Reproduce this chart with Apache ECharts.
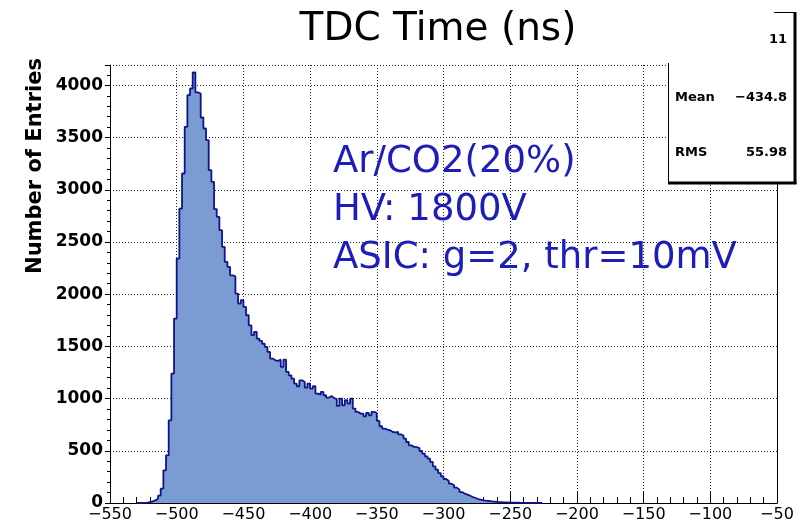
<!DOCTYPE html>
<html>
<head>
<meta charset="utf-8">
<script src="https://cdn.jsdelivr.net/npm/echarts@6/dist/echarts.min.js"></script>
<style>
html,body{margin:0;padding:0;background:#fff;}
#chart{width:808px;height:524px;}
</style>
</head>
<body>
<div id="chart"></div>
<script>
// ---- data ----
var binStart = -530;      // left edge of first listed bin
var binWidth = 2;         // ns per bin
var counts = [
  0, 0, 2, 4, 8, 15, 25, 40, 70, 137,
  313, 457, 792, 1239, 1766, 2341, 2820, 3156, 3603, 3906,
  3970, 4123, 3932, 3922, 3692, 3587, 3475, 3188, 3076, 2815,
  2740, 2613, 2453, 2309, 2261, 2181, 2170, 2006, 1910, 1942,
  1878, 1798, 1702, 1607, 1639, 1575, 1552, 1525, 1495, 1447,
  1383, 1367, 1361, 1373, 1303, 1373, 1255, 1223, 1191, 1143,
  1118, 1175, 1159, 1105, 1143, 1096, 1118, 1048, 1038, 1064,
  1032, 1009, 1025, 1006, 995, 930, 1000, 936, 984, 952,
  1000, 904, 872, 856, 856, 830, 862, 840, 872, 862,
  786, 735, 712, 703, 696, 680, 677, 680, 658, 645,
  616, 584, 552, 537, 535, 525, 498, 473, 447, 425,
  393, 351, 319, 287, 256, 230, 211, 185, 169, 147,
  128, 105, 89, 80, 70, 57, 48, 38, 32, 26,
  22, 19, 16, 13, 10, 9, 7, 6, 5, 4,
  4, 3, 3, 2, 2, 2, 1, 1, 1, 1,
  1, 0
];
var xTicks = [-550, -500, -450, -400, -350, -300, -250, -200, -150, -100, -50];
var yTicks = [0, 500, 1000, 1500, 2000, 2500, 3000, 3500, 4000];
var titleText = 'TDC Time (ns)';
var yName = 'Number of Entries';
var noteLines = ['Ar/CO2(20%)', 'HV: 1800V', 'ASIC: g=2, thr=10mV'];
var statsRows = [['', '11'], ['Mean', '\u2212434.8'], ['RMS', '55.98']];

// ---- build ----
var histData = [];
for (var i = 0; i < counts.length; i++) {
  histData.push([binStart + i * binWidth, counts[i]]);
}
histData.push([binStart + counts.length * binWidth, 0]);

function fmtMinus(v) { return v < 0 ? '\u2212' + Math.abs(v) : String(v); }

var FONT = '"DejaVu Sans", "Liberation Sans", Arial, sans-serif';
var chart = echarts.init(document.getElementById('chart'), null, {renderer: 'canvas'});

var graphics = [];
graphics.push({type: 'text', x: 438, y: 30, z: 100,
  style: {text: titleText, font: '39px ' + FONT, fill: '#000', align: 'center', verticalAlign: 'middle'}});
graphics.push({type: 'text', x: 36, y: 166, rotation: Math.PI / 2, z: 100,
  style: {text: yName, font: 'bold 21px ' + FONT, fill: '#000', align: 'center', verticalAlign: 'middle'}});
var noteY = [162, 210, 258];
noteLines.forEach(function (t, k) {
  graphics.push({type: 'text', x: 333, y: noteY[k], z: 100,
    style: {text: t, font: '37px ' + FONT, fill: '#1d1db8', align: 'left', verticalAlign: 'middle'}});
});
// stats box (top-left part hidden behind the title pad)
graphics.push({type: 'rect', z: 100, shape: {x: 668, y: 63, width: 126, height: 119}, style: {fill: '#fff'}});
graphics.push({type: 'rect', z: 100, shape: {x: 774, y: 12, width: 20, height: 60}, style: {fill: '#fff'}});
var lineStyle1 = {stroke: '#000', lineWidth: 1};
graphics.push({type: 'line', z: 101, shape: {x1: 774, y1: 12.5, x2: 794, y2: 12.5}, style: lineStyle1});
graphics.push({type: 'line', z: 101, shape: {x1: 668.5, y1: 63, x2: 668.5, y2: 182}, style: lineStyle1});
graphics.push({type: 'line', z: 101, shape: {x1: 795, y1: 12, x2: 795, y2: 184}, style: {stroke: '#000', lineWidth: 3}});
graphics.push({type: 'line', z: 101, shape: {x1: 668, y1: 183, x2: 796.5, y2: 183}, style: {stroke: '#000', lineWidth: 3}});
var statsY = [40, 98, 153];
statsRows.forEach(function (r, k) {
  if (r[0]) graphics.push({type: 'text', x: 675, y: statsY[k], z: 102,
    style: {text: r[0], font: 'bold 13px ' + FONT, fill: '#000', align: 'left', verticalAlign: 'middle'}});
  graphics.push({type: 'text', x: 787, y: statsY[k], z: 102,
    style: {text: r[1], font: 'bold 13px ' + FONT, fill: '#000', align: 'right', verticalAlign: 'middle'}});
});

var option = {
  animation: false,
  backgroundColor: '#fff',
  grid: {left: 110, right: 31, top: 65, bottom: 21, containLabel: false},
  xAxis: {
    type: 'value', min: xTicks[0], max: xTicks[xTicks.length - 1], interval: 50,
    axisLine: {show: true, onZero: false, lineStyle: {color: '#000', width: 1}},
    axisTick: {show: true, inside: true, length: 12, lineStyle: {color: '#000'}},
    minorTick: {show: true, splitNumber: 5, length: 6, lineStyle: {color: '#000'}},
    splitLine: {show: true, lineStyle: {color: '#222', type: [1, 2], width: 1}},
    axisLabel: {margin: 4, color: '#000', fontFamily: FONT, fontSize: 16, formatter: fmtMinus}
  },
  yAxis: [{
    type: 'value', min: yTicks[0], max: 4195, interval: 500,
    axisLine: {show: true, lineStyle: {color: '#000', width: 1}},
    axisTick: {show: true, inside: false, length: 5, lineStyle: {color: '#000'}},
    minorTick: {show: true, splitNumber: 5, length: 3, lineStyle: {color: '#000'}},
    splitLine: {show: true, lineStyle: {color: '#222', type: [1, 2], width: 1}},
    axisLabel: {margin: 7, color: '#000', fontFamily: FONT, fontWeight: 'bold', fontSize: 17,
      showMaxLabel: false,
      formatter: function (v) { return yTicks.indexOf(v) >= 0 ? String(v) : ''; }}
  }, {
    type: 'value', min: 0, max: 4195, position: 'right',
    axisLine: {show: true, lineStyle: {color: '#000', width: 1}},
    axisTick: {show: false}, axisLabel: {show: false}, splitLine: {show: false}
  }],
  series: [{
    type: 'line', step: 'end', data: histData, symbol: 'none',
    lineStyle: {color: '#10168a', width: 1.8},
    areaStyle: {color: '#7b9bd3', opacity: 1},
    z: 3
  }],
  graphic: graphics
};
chart.setOption(option);
</script>
</body>
</html>
